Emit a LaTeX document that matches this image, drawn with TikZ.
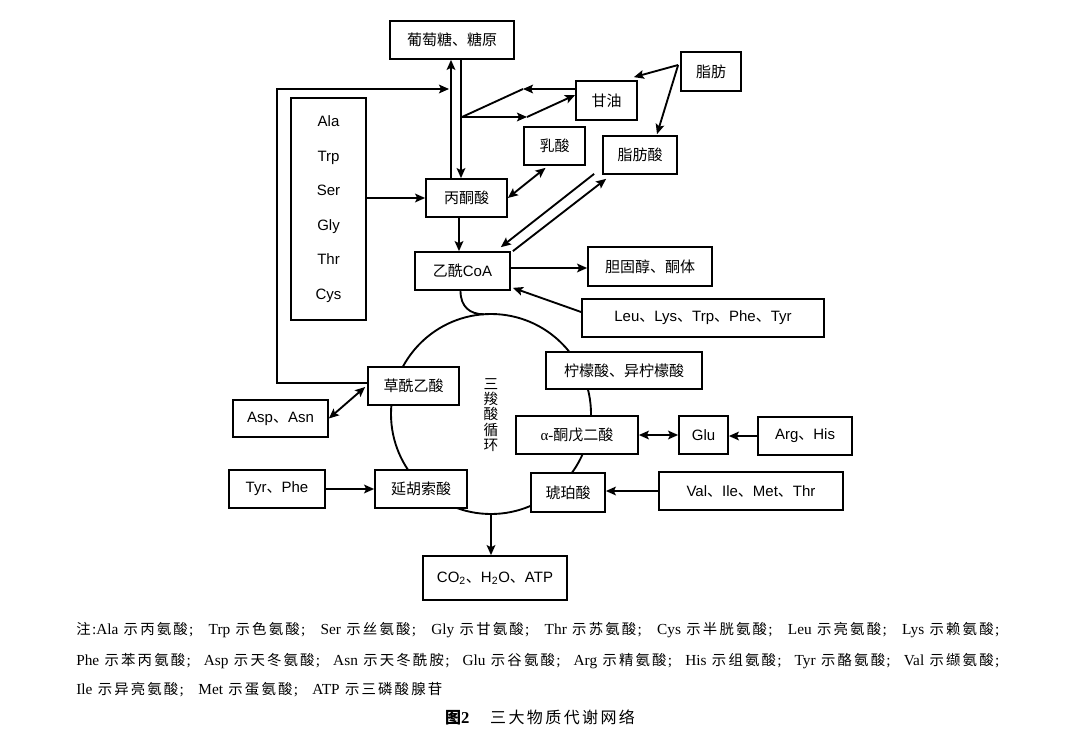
\documentclass[tikz,border=0pt]{standalone}
\usepackage{fontspec}
\setmainfont{Liberation Sans}
\newfontfamily\cjk{Noto Sans CJK SC}
\newfontfamily\cjkn{Noto Sans CJK SC}[LetterSpace=15]
\newfontfamily\nserif{Liberation Serif}
\usetikzlibrary{arrows.meta,calc}
\newcommand\nt[2]{{\fontsize{11.5}{12}\nserif #1}\hspace{4pt plus 2pt}{\cjkn 示#2}{\fontsize{11.5}{12}\nserif\hspace{1pt plus 1pt};\hspace{3pt}}}
\begin{document}
\begin{tikzpicture}[x=0.75pt,y=-0.75pt,
  box/.style n args={2}{draw,line width=1.3pt,fill=white,inner sep=0pt,
     minimum width=#1*0.75pt,minimum height=#2*0.75pt,font=\fontsize{11.25}{13}\selectfont},
  conn/.style={line width=1.4pt},
  arr/.style={conn,-{Stealth[length=7.5pt,width=6.5pt,inset=1.5pt]}},
  darr/.style={conn,{Stealth[length=7.5pt,width=6.5pt,inset=1.5pt]}-{Stealth[length=7.5pt,width=6.5pt,inset=1.5pt]}},
  note/.style={anchor=west,inner sep=0pt,font=\fontsize{10.8}{12}\selectfont}]
\fill[white] (0,0) rectangle (1080,735);
\useasboundingbox (0,0) rectangle (1080,735);
% TCA cycle
\coordinate (c0) at (491,414);
\draw[conn] (c0) circle[radius=75pt];
\node[align=center,inner sep=0pt,font=\fontsize{11}{11.4}\cjk] (tca) at (491,415) {三\\羧\\酸\\循\\环};
% boxes
\node[box={124}{38}] (glu) at (452,40) {\cjk 葡萄糖、糖原};
\node[box={61}{39}] (gan) at (606.5,100.5) {\cjk 甘油};
\node[box={60}{39}] (zf) at (711,71.5) {\cjk 脂肪};
\node[box={74}{38}] (zfs) at (640,155) {\cjk 脂肪酸};
\node[box={61}{38}] (rs) at (554.5,146) {\cjk 乳酸};
\node[box={81}{38}] (pyr) at (466.5,198) {\cjk 丙酮酸};
\node[box={95}{38}] (acoa) at (462.5,271) {{\cjk 乙酰}CoA};
\node[box={124}{39}] (chol) at (650,266.5) {\cjk 胆固醇、酮体};
\node[box={75}{222},align=center,font=\fontsize{11.25}{25.9}\selectfont] (aa) at (328.5,209) {Ala\\Trp\\Ser\\Gly\\Thr\\Cys};
\node[box={242}{38}] (leu) at (703,318) {Leu{\cjk 、}Lys{\cjk 、}Trp{\cjk 、}Phe{\cjk 、}Tyr};
\node[box={156}{37}] (cit) at (624,370.5) {\cjk 柠檬酸、异柠檬酸};
\node[box={91}{38}] (oaa) at (413.5,386) {\cjk 草酰乙酸};
\node[box={95}{37}] (asp) at (280.5,418.5) {Asp{\cjk 、}Asn};
\node[box={122}{38}] (akg) at (577,435) {{\nserif α-}{\cjk 酮戊二酸}};
\node[box={49}{38}] (gluaa) at (703.5,435) {Glu};
\node[box={94}{38}] (arg) at (805,436) {Arg{\cjk 、}His};
\node[box={96}{38}] (tyr) at (277,489) {Tyr{\cjk 、}Phe};
\node[box={92}{38}] (fum) at (421,489) {\cjk 延胡索酸};
\node[box={74}{39}] (suc) at (568,492.5) {\cjk 琥珀酸};
\node[box={184}{38}] (val) at (751,491) {Val{\cjk 、}Ile{\cjk 、}Met{\cjk 、}Thr};
\node[box={144}{44}] (co2) at (495,578) {CO\textsubscript{2}{\cjk 、}H\textsubscript{2}O{\cjk 、}ATP};
% connectors
\coordinate (upx) at (451,0);
\coordinate (dnx) at (461,0);
\draw[arr] (upx |- pyr.north) -- (upx |- glu.south);
\draw[arr] (dnx |- glu.south) -- (dnx |- pyr.north);
\coordinate (fbx) at (277,0);
\coordinate (fbend) at (449,89);
\coordinate (oaw) at ($(oaa.west)+(0,-3)$);
\draw[arr] (oaw) -- (oaw -| fbx) -- (fbx |- fbend) -- (fbend);
\coordinate (gA) at (523,89);
\coordinate (gB) at (462,117);
\coordinate (gC) at (527,117);
\draw[arr] (gan.west |- gA) -- (gA);
\draw[conn] (gA) -- (gB);
\draw[arr] (gB) -- (gC);
\draw[arr] (gC) -- ($(gan.west)+(0,-5.5)$);
\coordinate (zfo) at ($(zf.west)+(-2,-6.5)$);
\draw[arr] (zfo) -- ($(gan.north east)+(-4,-3)$);
\draw[arr] (zfo) -- ($(zfs.north)+(17,-1)$);
\draw[darr] (pyr.east) -- ($(rs.south)+(-9,2)$);
\draw[arr] (pyr.west -| aa.east) -- (pyr.west);
\coordinate (pa) at ($(pyr.south)+(-7.5,0)$);
\draw[arr] (pa) -- (pa |- acoa.north);
\draw[arr] ($(zfs.south west)+(-8,-1)$) -- ($(acoa.north east)+(-10,-4)$);
\draw[arr] ($(acoa.north east)+(2,0)$) -- ($(zfs.south west)+(4,4)$);
\coordinate (ace) at ($(acoa.east)+(0,-3)$);
\draw[arr] (ace) -- (ace -| chol.west);
\draw[arr] ($(leu.west)+(0,-6)$) -- ($(acoa.south east)+(2,-3)$);
\coordinate (ctl) at (484,314.3);
\draw[conn] ($(acoa.south)+(-2,0)$) .. controls +(0,16) and +(-14,0) .. (ctl);
\draw[darr] (asp.east) -- ($(oaa.west)+(-2,1)$);
\draw[arr] (tyr.east) -- (fum.west);
\coordinate (cbot) at (491,514);
\draw[arr] (cbot) -- (cbot |- co2.north);
\draw[darr] (akg.east) -- (gluaa.west);
\draw[arr] (arg.west) -- (arg.west -| gluaa.east);
\draw[arr] (val.west) -- (val.west -| suc.east);
% notes
\node[note] (n1) at (76,630.5) {\makebox[695.25pt][s]{{\cjkn 注}{\fontsize{11.5}{12}\nserif\hspace{1pt}:}\nt{Ala}{丙氨酸}\hfil\nt{Trp}{色氨酸}\hfil\nt{Ser}{丝氨酸}\hfil\nt{Gly}{甘氨酸}\hfil\nt{Thr}{苏氨酸}\hfil\nt{Cys}{半胱氨酸}\hfil\nt{Leu}{亮氨酸}\hfil\nt{Lys}{赖氨酸}}};
\node[note] (n2) at (76,661) {\makebox[695.25pt][s]{\nt{Phe}{苯丙氨酸}\hfil\nt{Asp}{天冬氨酸}\hfil\nt{Asn}{天冬酰胺}\hfil\nt{Glu}{谷氨酸}\hfil\nt{Arg}{精氨酸}\hfil\nt{His}{组氨酸}\hfil\nt{Tyr}{酪氨酸}\hfil\nt{Val}{缬氨酸}}};
\node[note] (n3) at (76,689.5) {\makebox[274.5pt][s]{\nt{Ile}{异亮氨酸}\hfil\nt{Met}{蛋氨酸}\hfil{\fontsize{11.5}{12}\nserif ATP}\hspace{4pt}{\cjkn 示三磷酸腺苷}}};
\node[inner sep=0pt,font=\fontsize{12}{14}\selectfont] (cap) at (540,717.5) {{\cjk\bfseries 图}{\fontsize{12.5}{14}\nserif\bfseries 2}\hspace{1.3em}{\cjkn 三大物质代谢网络}};
\end{tikzpicture}
\end{document}
